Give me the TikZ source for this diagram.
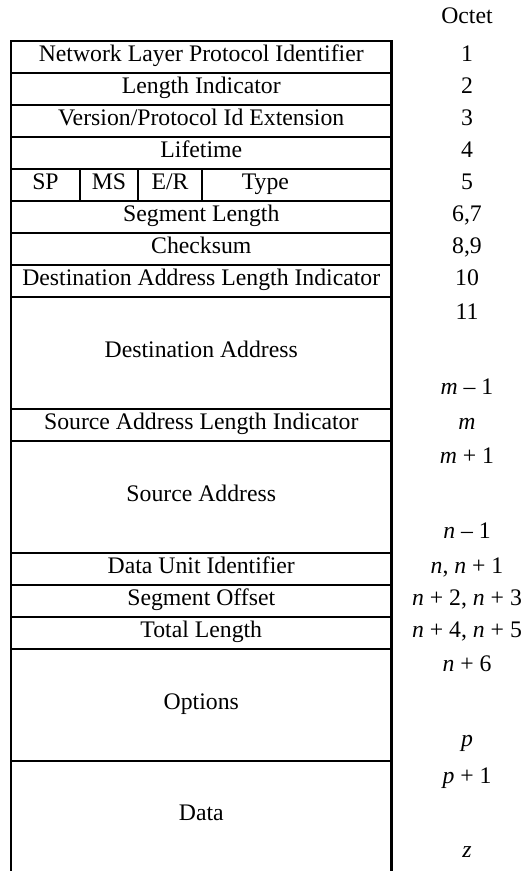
\documentclass[tikz,border=0pt]{standalone}
\usepackage{fontspec}
\setmainfont{Liberation Serif}
\usetikzlibrary{positioning}

\begin{document}
\begin{tikzpicture}[font=\fontsize{17.8}{21}\selectfont,
    field/.style={draw, rectangle, line width=1.8pt, inner sep=0pt, outer sep=0pt,
                  minimum width=285.4pt, minimum height=24pt,
                  text height=0.66em, text depth=0pt},
    big/.style={minimum height=84pt},
    octet/.style={inner sep=0pt, text height=0.66em, text depth=0pt}]

        % Page
        \useasboundingbox (0,0) rectangle (394.5pt,-653.25pt);

        % Header
        \node[octet] (head) at (350.25pt,-14.25pt) {Octet};

        % Fields
        \node[field, anchor=north west] (nlpi) at (8.25pt,-30.75pt) {Network Layer Protocol Identifier};
        \node[field, below=0pt of nlpi] (li) {Length Indicator};
        \node[field, below=0pt of li] (ver) {Version/Protocol Id Extension};
        \node[field, below=0pt of ver] (life) {Lifetime};
        \node[field, minimum width=51.75pt, anchor=north west] (sp) at (life.south west) {SP};
        \node[field, minimum width=43.5pt, right=0pt of sp] (ms) {MS};
        \node[field, minimum width=48pt, right=0pt of ms] (er) {E/R};
        \node[field, minimum width=142.15pt, right=0pt of er] (type) {Type\hspace*{47pt}};
        \node[field, anchor=north west] (seglen) at (sp.south west) {Segment Length};
        \node[field, below=0pt of seglen] (chk) {Checksum};
        \node[field, below=0pt of chk] (dali) {Destination Address Length Indicator};
        \node[field, big, below=0pt of dali] (dst) {Destination Address};
        \node[field, below=0pt of dst] (sali) {Source Address Length Indicator};
        \node[field, big, below=0pt of sali] (src) {Source Address};
        \node[field, below=0pt of src] (dui) {Data Unit Identifier};
        \node[field, below=0pt of dui] (segoff) {Segment Offset};
        \node[field, below=0pt of segoff] (totlen) {Total Length};
        \node[field, big, below=0pt of totlen] (opt) {Options};
        \node[field, draw=none, minimum height=82.5pt, below=0pt of opt] (data) {Data};
        \draw[line width=1.8pt] (data.north west) -- (data.south west);
        \draw[line width=1.8pt] (data.north east) -- (data.south east);

        % Octet numbers
        \node[octet] (o1) at ([xshift=56.6pt]nlpi.east) {1};
        \node[octet] (o2) at ([xshift=56.6pt]li.east) {2};
        \node[octet] (o3) at ([xshift=56.6pt]ver.east) {3};
        \node[octet] (o4) at ([xshift=56.6pt]life.east) {4};
        \node[octet] (o5) at ([xshift=56.6pt]type.east) {5};
        \node[octet] (o6) at ([xshift=56.6pt]seglen.east) {6,7};
        \node[octet] (o8) at ([xshift=56.6pt]chk.east) {8,9};
        \node[octet] (o10) at ([xshift=56.6pt]dali.east) {10};
        \node[octet] (o11) at ([xshift=56.6pt, yshift=-13.5pt]dst.north east) {11};
        \node[octet] (om1) at ([xshift=56.6pt, yshift=14.5pt]dst.south east) {\textit{m} – 1};
        \node[octet] (om) at ([xshift=56.6pt]sali.east) {\textit{m}};
        \node[octet] (omp) at ([xshift=56.6pt, yshift=-13.5pt]src.north east) {\textit{m} + 1};
        \node[octet] (on1) at ([xshift=56.6pt, yshift=14.5pt]src.south east) {\textit{n} – 1};
        \node[octet] (on) at ([xshift=56.6pt]dui.east) {\textit{n}, \textit{n} + 1};
        \node[octet] (on2) at ([xshift=56.6pt]segoff.east) {\textit{n} + 2, \textit{n} + 3};
        \node[octet] (on4) at ([xshift=56.6pt]totlen.east) {\textit{n} + 4, \textit{n} + 5};
        \node[octet] (on6) at ([xshift=56.6pt, yshift=-13.5pt]opt.north east) {\textit{n} + 6};
        \node[octet] (op) at ([xshift=56.6pt, yshift=14.5pt]opt.south east) {\textit{p}};
        \node[octet] (op1) at ([xshift=56.6pt, yshift=-13.5pt]data.north east) {\textit{p} + 1};
        \node[octet] (oz) at ([xshift=56.6pt, yshift=13.5pt]data.south east) {\textit{z}};

      \end{tikzpicture}
\end{document}
